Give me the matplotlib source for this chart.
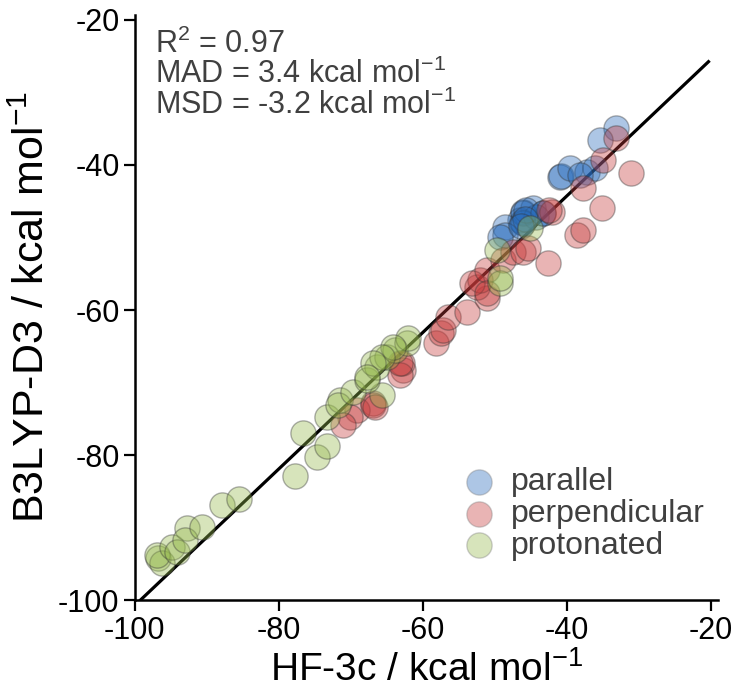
import numpy as np
import matplotlib.pyplot as plt

plt.rcParams['font.family'] = ['Liberation Sans', 'DejaVu Sans']
plt.rcParams['mathtext.fontset'] = 'custom'
plt.rcParams['mathtext.rm'] = 'Liberation Sans'
plt.rcParams['mathtext.it'] = 'Liberation Sans'
plt.rcParams['axes.unicode_minus'] = False

# HF-3c vs B3LYP-D3 interaction energies (kcal/mol)
parallel_x = [-33.1, -35.4, -41.0, -40.8, -39.6, -37.2, -36.1, -38.2,
              -46.1, -44.7, -43.3, -46.5, -46.2, -48.6, -46.1, -44.2,
              -46.1, -45.6, -48.6, -49.3, -43.3, -45.8, -46.4]
parallel_y = [-34.9, -36.6, -41.7, -41.6, -40.4, -41.0, -40.4, -41.4,
              -46.5, -45.9, -46.6, -47.6, -47.9, -48.6, -46.6, -47.2,
              -48.0, -46.2, -49.7, -49.9, -46.6, -47.5, -48.4]

perpendicular_x = [-62.8, -62.9, -66.9, -69.2, -70.1, -71.1, -63.2, -63.2,
                   -66.9, -58.1, -57.4, -57.2, -56.5, -53.9, -51.1, -52.5,
                   -52.1, -53.1, -51.1, -51.1, -48.9, -47.5, -46.1, -45.4,
                   -42.6, -38.5, -37.8, -35.1, -42.1, -37.8, -31.0, -35.0,
                   -33.1, -42.4, -66.6]
perpendicular_y = [-68.3, -67.3, -72.8, -73.8, -74.8, -75.9, -69.0, -67.3,
                   -73.1, -64.6, -63.2, -62.8, -61.0, -60.3, -58.3, -56.8,
                   -55.9, -56.3, -54.5, -57.7, -53.1, -52.0, -52.0, -51.4,
                   -53.5, -49.7, -49.0, -45.9, -46.5, -43.2, -41.1, -39.3,
                   -36.3, -46.2, -73.4]

protonated_x = [-96.8, -96.3, -96.9, -94.9, -94.2, -92.8, -93.1, -90.7,
                -87.9, -85.6, -77.8, -74.7, -73.3, -76.7, -73.3, -71.5,
                -71.8, -69.7, -65.6, -67.8, -66.4, -65.0, -63.9, -62.2,
                -62.0, -64.2, -65.6, -66.9, -67.8, -49.3, -49.3, -49.7,
                -45.1]
protonated_y = [-94.2, -94.8, -93.8, -92.7, -93.4, -90.1, -91.7, -89.9,
                -86.9, -86.1, -82.9, -80.3, -78.8, -77.0, -74.8, -72.4,
                -73.1, -71.3, -71.7, -69.7, -67.9, -66.5, -65.5, -64.6,
                -63.9, -65.1, -66.5, -67.3, -69.2, -56.3, -55.6, -51.7,
                -48.7]

# linear fit shown on the plot
fit_slope = 0.94
fit_intercept = -6.7
fit_range = [-99.3, -20.3]

stats_lines = [r'R$^{\mathregular{2}}$ = 0.97',
               r'MAD = 3.4 kcal mol$^{\mathregular{-1}}$',
               r'MSD = -3.2 kcal mol$^{\mathregular{-1}}$']

fig = plt.figure(figsize=(7.37, 6.98), dpi=100, facecolor='white')
ax = fig.add_axes([0.183, 0.140, 0.791, 0.839])

fx = np.array(fit_range)
ax.plot(fx, fit_slope * fx + fit_intercept, color='black', lw=2.3, zorder=1)

style = dict(s=330, alpha=0.38, edgecolors=(0.2, 0.2, 0.2), linewidths=1.0, zorder=2)
ax.scatter(parallel_x, parallel_y, color=(40/255, 107/255, 187/255), label='parallel', **style)
ax.scatter(perpendicular_x, perpendicular_y, color=(198/255, 58/255, 58/255), label='perpendicular', **style)
ax.scatter(protonated_x, protonated_y, color=(150/255, 185/255, 78/255), label='protonated', **style)

ax.set_xlim(-100, -19)
ax.set_ylim(-100, -19.3)
ax.set_xticks([-100, -80, -60, -40, -20])
ax.set_yticks([-100, -80, -60, -40, -20])

for side in ['top', 'right']:
    ax.spines[side].set_visible(False)
for side in ['left', 'bottom']:
    ax.spines[side].set_linewidth(1.8)
ax.tick_params(direction='out', length=8, width=1.6, labelsize=22, colors='black', pad=3)

ax.set_xlabel(r'HF-3c / kcal mol$^{\mathregular{-1}}$', fontsize=28, labelpad=4)
ax.set_ylabel(r'B3LYP-D3 / kcal mol$^{\mathregular{-1}}$', fontsize=31, labelpad=4)

for y, line in zip([0.935, 0.883, 0.831], stats_lines):
    ax.text(0.034, y, line, transform=ax.transAxes,
            fontsize=22, color='#404040', va='baseline', ha='left')

leg = ax.legend(loc='lower right', bbox_to_anchor=(1.01, 0.035), frameon=False,
                fontsize=23, handletextpad=0.0, labelspacing=0.05, borderaxespad=0.2)
for h in leg.legend_handles:
    h.set_edgecolor((0.5, 0.5, 0.5, 0.4))
for t in leg.get_texts():
    t.set_color('#404040')

fig.savefig('out.png', dpi=100, facecolor='white')
